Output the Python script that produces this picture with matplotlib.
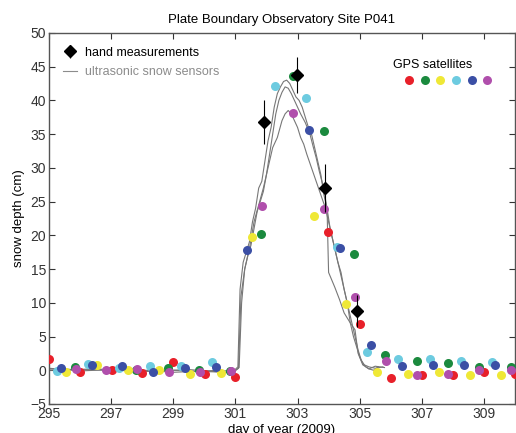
import numpy as np
import matplotlib.pyplot as plt
from matplotlib.lines import Line2D

plt.rcParams['font.family'] = ['Liberation Sans', 'DejaVu Sans']

# hand measurements (day, depth cm, error cm)
hand_day = [301.91, 302.97, 303.87, 304.90]
hand_depth = [36.8, 43.8, 27.0, 8.8]
hand_err = [3.3, 2.7, 3.6, 2.4]

# ultrasonic snow sensors
s1_day = [295.0, 296.0, 297.0, 298.0, 299.0, 300.0, 300.9, 301.08, 301.15, 301.25, 301.35, 301.45,
          301.55, 301.65, 301.75, 301.85, 301.95, 302.05, 302.15, 302.25, 302.35, 302.45, 302.55,
          302.65, 302.75, 302.85, 302.95, 303.05, 303.15, 303.25, 303.35, 303.45, 303.55, 303.65,
          303.75, 303.85, 303.95, 304.05, 304.2, 304.4, 304.6, 304.8, 304.95, 305.05, 305.15, 305.3,
          305.5, 305.75]
s1_depth = [0.2, 0.1, 0.0, -0.1, 0.0, -0.2, -0.3, 0.5, 12.0, 16.0, 17.5, 19.0, 22.0, 24.0, 27.0,
            28.0, 31.0, 34.0, 36.0, 39.0, 41.0, 42.0, 42.8, 43.0, 42.5, 41.5, 40.5, 40.0, 39.0, 37.5,
            36.0, 35.0, 33.0, 31.0, 29.0, 26.0, 24.0, 21.0, 18.0, 14.0, 10.0, 6.0, 3.0, 1.5, 0.8,
            0.5, 0.3, 0.5]

s2_day = [295.0, 296.5, 298.0, 299.5, 300.9, 301.1, 301.18, 301.3, 301.4, 301.5, 301.6, 301.7,
          301.8, 301.9, 302.0, 302.1, 302.2, 302.3, 302.4, 302.5, 302.6, 302.7, 302.8, 302.9, 303.0,
          303.1, 303.25, 303.4, 303.5, 303.6, 303.7, 303.83, 303.95, 304.0, 304.2, 304.35, 304.5,
          304.7, 304.85, 304.95, 305.1, 305.3, 305.5, 305.8]
s2_depth = [0.0, 0.2, -0.2, 0.1, -0.4, 0.3, 11.0, 15.0, 17.0, 18.5, 21.0, 23.5, 25.0, 26.5, 29.0,
            32.0, 35.0, 38.0, 40.0, 41.2, 42.0, 41.8, 41.0, 40.0, 39.0, 38.0, 36.7, 35.0, 33.2, 31.5,
            29.5, 27.2, 24.0, 14.5, 12.3, 10.5, 8.5, 7.0, 6.0, 2.5, 0.8, 0.2, 0.6, 0.4]

s3_day = [295.0, 296.0, 297.5, 299.0, 300.5, 300.95, 301.12, 301.2, 301.3, 301.45, 301.6, 301.75,
          301.9, 302.05, 302.2, 302.35, 302.5, 302.6, 302.7, 302.8, 302.9, 303.0, 303.1, 303.2,
          303.3, 303.45, 303.6, 303.75, 303.9, 304.0, 304.1, 304.2, 304.3, 304.4, 304.5, 304.6,
          304.7, 304.8, 304.9, 305.0, 305.1, 305.2, 305.3, 305.45, 305.6]
s3_depth = [0.3, -0.1, 0.2, -0.3, 0.0, -0.2, 0.4, 10.0, 15.0, 18.0, 22.0, 24.5, 27.0, 30.0, 33.0,
            34.5, 37.0, 38.0, 38.5, 38.0, 37.0, 36.0, 34.5, 33.5, 32.0, 30.0, 28.0, 26.0, 24.0,
            22.0, 20.0, 18.0, 16.0, 14.5, 12.0, 10.0, 7.0, 5.0, 3.5, 2.0, 1.0, 0.5, 0.2, 0.0, 0.5]

# GPS satellites, one series per satellite
sat_colors = ['#e8202a', '#1b8a3e', '#efe836', '#6dcbe0', '#3b4fa5', '#b04fac']

red_day = [295.0, 295.99, 297.02, 298.0, 298.99, 300.01, 300.99, 303.99, 305.0, 306.0, 307.0,
           308.01, 309.0, 310.0]
red_depth = [1.6, -0.2, 0.05, -0.35, 1.15, -0.6, -1.0, 20.5, 6.8, -1.1, -0.65, -0.65, -0.3, -0.5]

green_day = [295.83, 297.8, 298.82, 299.83, 300.82, 301.84, 302.84, 303.84, 304.83, 305.82,
             306.84, 307.83, 308.83, 309.86]
green_depth = [0.5, 0.1, 0.35, 0.1, -0.1, 20.2, 43.6, 35.5, 17.3, 2.2, 1.4, 1.1, 0.5, 0.5]

yellow_day = [295.54, 296.56, 297.55, 298.55, 299.54, 300.55, 301.55, 303.54, 304.55, 305.55,
              306.55, 307.55, 308.56, 309.54]
yellow_depth = [-0.2, 0.8, 0.0, 0.0, -0.5, -0.35, 19.8, 22.8, 9.75, -0.25, -0.5, -0.25, -0.75,
                -0.75]

cyan_day = [295.25, 296.26, 297.25, 298.26, 299.25, 300.26, 302.26, 303.26, 304.26, 305.25,
            306.25, 307.26, 308.26, 309.26]
cyan_depth = [-0.1, 0.9, 0.4, 0.7, 0.7, 1.15, 42.1, 40.3, 18.2, 2.7, 1.7, 1.6, 1.3, 1.15]

blue_day = [295.37, 296.37, 297.36, 298.36, 299.37, 300.38, 301.36, 303.37, 304.38, 305.37,
            306.36, 307.37, 308.37, 309.36]
blue_depth = [0.3, 0.8, 0.65, -0.2, 0.35, 0.5, 17.8, 35.6, 18.1, 3.75, 0.65, 0.75, 0.8, 0.8]

magenta_day = [295.86, 296.85, 297.84, 298.85, 299.85, 300.85, 301.85, 302.85, 303.84, 304.85,
               305.84, 306.84, 307.83, 308.83, 309.86]
magenta_depth = [0.25, 0.1, 0.2, -0.2, -0.25, -0.1, 24.3, 38.1, 23.9, 10.9, 1.4, -0.65, -0.5,
                 0.0, 0.0]

fig = plt.figure(figsize=(5.16, 4.33), dpi=100)
ax = fig.add_axes([0.095, 0.067, 0.903, 0.857])

for d, v in [(s1_day, s1_depth), (s2_day, s2_depth), (s3_day, s3_depth)]:
    ax.plot(d, v, color='#777777', lw=0.8, zorder=2)

sats = [(red_day, red_depth), (green_day, green_depth), (yellow_day, yellow_depth),
        (cyan_day, cyan_depth), (blue_day, blue_depth), (magenta_day, magenta_depth)]
for (d, v), c in zip(sats, sat_colors):
    ax.plot(d, v, 'o', color=c, ms=6.5, mec='none', zorder=3, clip_on=True)

eb = ax.errorbar(hand_day, hand_depth, yerr=hand_err, fmt='D', color='black', ms=6.5,
                 ecolor='black', elinewidth=0.8, capsize=0, zorder=4)

ax.set_xlim(295, 310)
ax.set_ylim(-5, 50)
ax.set_xticks(np.arange(295, 310, 2))
ax.set_yticks(np.arange(-5, 51, 5))
ax.tick_params(direction='in', top=True, right=True, length=4, width=0.8,
               labelsize=10, colors='#333333', pad=2)
for sp in ax.spines.values():
    sp.set_color('#555555')
    sp.set_linewidth(1.0)

ax.set_title('Plate Boundary Observatory Site P041', fontsize=9.5, pad=7)
ax.set_xlabel('day of year (2009)', fontsize=9.5, labelpad=2)
ax.set_ylabel('snow depth (cm)', fontsize=9.5, labelpad=4)

gray_line = Line2D([], [], color='#8c8c8c', lw=0.8)
leg = ax.legend([eb, gray_line], ['hand measurements', 'ultrasonic snow sensors'],
                loc='upper left', frameon=False, fontsize=9, handlelength=1.1,
                handletextpad=0.7, labelspacing=0.6, borderaxespad=0.7)
leg.get_texts()[1].set_color('#8c8c8c')

ax.text(0.738, 0.914, 'GPS satellites', transform=ax.transAxes, fontsize=9,
        ha='left', va='center')
for i, c in enumerate(sat_colors):
    ax.plot(0.773 + 0.0335 * i, 0.873, 'o', color=c, ms=6.5, mec='none',
            transform=ax.transAxes)

fig.savefig('out.png', dpi=100)
